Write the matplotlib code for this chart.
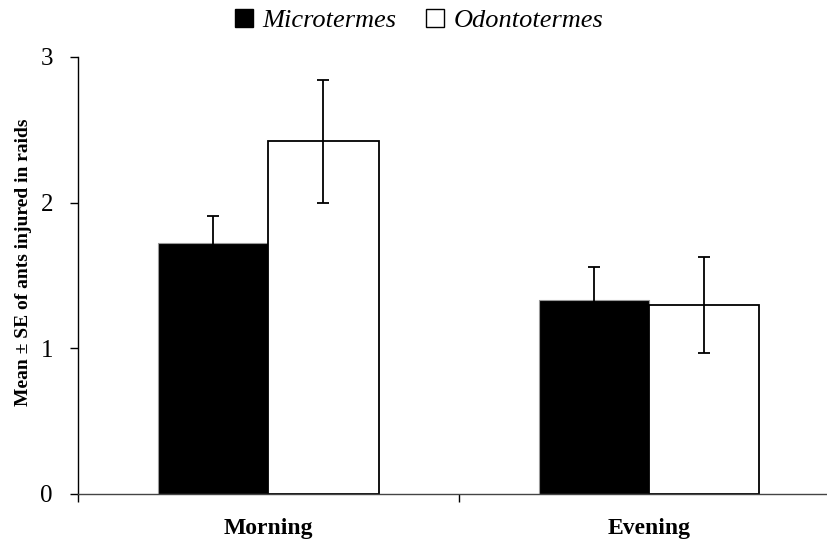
import numpy as np
import matplotlib.pyplot as plt
from matplotlib.patches import Patch

periods = ['Morning', 'Evening']
species = ['Microtermes', 'Odontotermes']
micro_mean = [1.72, 1.33]
micro_se = [0.19, 0.23]
odonto_mean = [2.42, 1.30]
odonto_se = [0.42, 0.33]

plt.rcParams['font.family'] = ['Liberation Serif', 'DejaVu Serif']

fig = plt.figure(figsize=(8.28, 5.4), dpi=100)
ax = fig.add_axes([0.0942, 0.0852, 0.920, 0.8093])

x = np.arange(len(periods))
w = 0.289
err_kw = dict(ecolor='black', elinewidth=1.3, capsize=4.5, capthick=1.3)

ax.bar(x - w / 2, micro_mean, w, yerr=micro_se, color='black',
       edgecolor='#999999', linewidth=0.8, error_kw=err_kw, zorder=2)
ax.bar(x + w / 2, odonto_mean, w, yerr=odonto_se, color='white',
       edgecolor='black', linewidth=1.3, error_kw=err_kw, zorder=2)

ax.set_xlim(-0.5, 1.5)
ax.set_ylim(0, 3)
ax.set_yticks([0, 1, 2, 3])
ax.tick_params(axis='y', labelsize=18, direction='out', length=6, width=1, pad=12)

# category boundary ticks, labels centred under groups
ax.set_xticks([-0.5, 0.5, 1.5])
ax.set_xticklabels([])
ax.set_xticks(x, minor=True)
ax.set_xticklabels(periods, minor=True, fontsize=17, fontweight='bold')
ax.tick_params(axis='x', which='major', direction='out', length=6, width=1)
ax.tick_params(axis='x', which='minor', length=0, pad=17)

for s in ['top', 'right']:
    ax.spines[s].set_visible(False)
ax.spines['left'].set_linewidth(1)
ax.spines['bottom'].set_linewidth(1)
ax.spines['bottom'].set_color('#444444')

ax.set_ylabel('Mean \u00b1 SE of ants injured in raids', fontsize=14,
              fontweight='bold')
ax.yaxis.set_label_coords(-0.06, 0.53)

handles = [Patch(facecolor='black', edgecolor='black', label=species[0]),
           Patch(facecolor='white', edgecolor='black', label=species[1])]
leg = fig.legend(handles=handles, loc='upper center', bbox_to_anchor=(0.506, 1.028),
                 ncol=2, frameon=False, handlelength=0.7, handleheight=0.7,
                 handletextpad=0.35, columnspacing=1.1,
                 prop={'style': 'italic', 'size': 19,
                       'family': ['Liberation Serif', 'DejaVu Serif']})

fig.savefig('out.png', dpi=100)
